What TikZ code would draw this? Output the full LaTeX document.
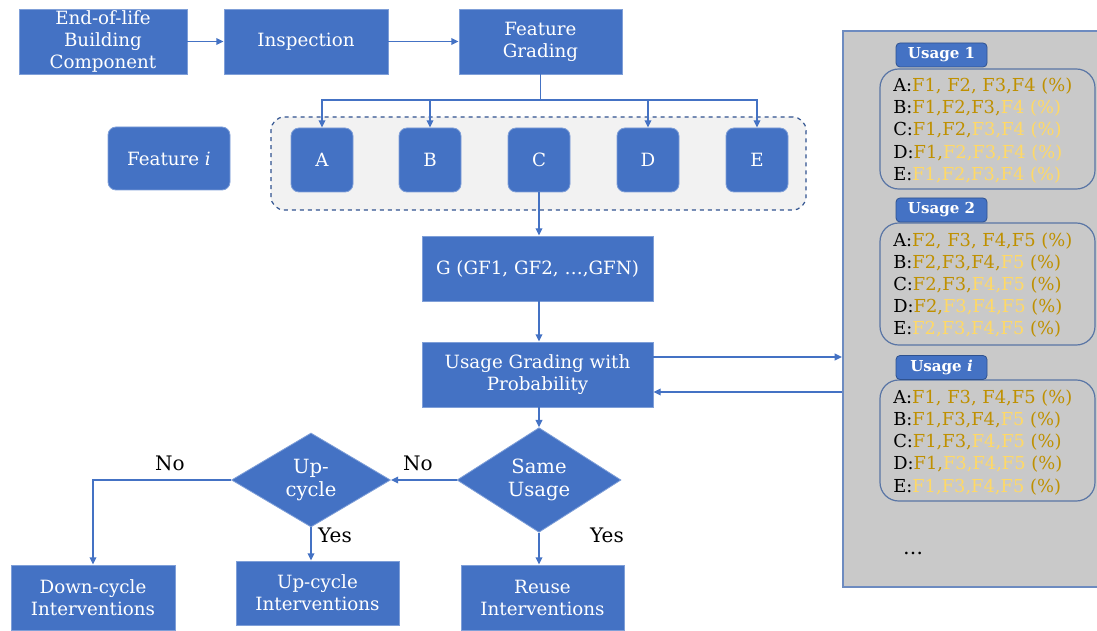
\documentclass[tikz,border=0pt]{standalone}
\usepackage{fontspec}
\setmainfont{DejaVu Serif}
\usetikzlibrary{shapes.geometric,arrows.meta,calc}
\definecolor{mainblue}{HTML}{4472C4}
\definecolor{boxedge}{HTML}{7F9FD8}
\definecolor{darkblue}{HTML}{2F528F}
\definecolor{panelgray}{HTML}{C9C9C9}
\definecolor{paneledge}{HTML}{6D8BC0}
\definecolor{dkgold}{HTML}{BF9000}
\definecolor{ltgold}{HTML}{FFD966}
\definecolor{grpfill}{HTML}{F2F2F2}
\newcommand{\dkg}[1]{\textcolor{dkgold}{#1}}
\newcommand{\ltg}[1]{\textcolor{ltgold}{#1}}
\begin{document}
\begin{tikzpicture}[x=0.75pt,y=-0.75pt,
 box/.style={draw=boxedge, line width=0.6pt, fill=mainblue, text=white, align=center, inner sep=0pt, font=\fontsize{13.7}{16.5}\selectfont},
 rbox/.style={box, rounded corners=6pt},
 dia/.style={box, diamond, font=\fontsize{14.7}{17.5}\selectfont},
 conn/.style={draw=mainblue, line width=1.1pt},
 arr/.style={conn, -{Triangle[length=5.5pt,width=5pt]}},
 lbl/.style={font=\fontsize{15}{17}\selectfont, text=black, inner sep=0pt},
 row/.style={anchor=west, inner sep=0pt, font=\fontsize{13.4}{16}\selectfont},
 tab/.style={draw=darkblue, line width=0.6pt, fill=mainblue, rounded corners=3pt, text=white, font=\fontsize{11.3}{13}\bfseries\selectfont, minimum width=68.25pt, minimum height=18pt, inner sep=0pt},
 innerbox/.style={draw=darkblue!80, line width=0.9pt, rounded corners=14pt, minimum width=161.25pt, inner sep=0pt}
]
\useasboundingbox (0,0) rectangle (1097,631);

% top row
\node[box, minimum width=126pt, minimum height=48.75pt] (eol) at (103,41.5) {End-of-life\\Building\\Component};
\node[box, minimum width=123pt, minimum height=48.75pt] (insp) at (306,41.5) {Inspection};
\node[box, minimum width=122.25pt, minimum height=48.75pt] (fg) at (540.5,41.5) {Feature\\Grading};
\draw[arr] (eol.east) -- (insp.west);
\draw[arr] (insp.east) -- (fg.west);

% features
\node[draw=darkblue, dashed, line width=0.9pt, fill=grpfill, rounded corners=10pt, minimum width=401.25pt, minimum height=69.75pt, inner sep=0pt] (grp) at (538.5,163.5) {};
\node[rbox, minimum width=91.5pt, minimum height=47.25pt] (feat) at (169,158.5) {Feature \textit{i}};
\node[rbox, minimum width=46.5pt, minimum height=48pt] (A) at (322,160) {A};
\node[rbox, minimum width=46.5pt, minimum height=48pt] (B) at (430,160) {B};
\node[rbox, minimum width=46.5pt, minimum height=48pt] (C) at (539,160) {C};
\node[rbox, minimum width=46.5pt, minimum height=48pt] (D) at (648,160) {D};
\node[rbox, minimum width=46.5pt, minimum height=48pt] (E) at (757,160) {E};
\coordinate (yh) at (0,100);
\coordinate (hub) at (fg.south |- yh);
\draw[conn] (fg.south) -- (hub);
\draw[arr] (hub) -| (A.north);
\draw[arr] (hub) -| (B.north);
\draw[arr] (hub) -| (D.north);
\draw[arr] (hub) -| (E.north);

% middle
\node[box, minimum width=173.25pt, minimum height=48.75pt] (g) at (537.5,268.5) {G (GF1, GF2, …,GFN)};
\node[box, minimum width=173.25pt, minimum height=48.75pt] (ug) at (537.5,374.5) {Usage Grading with\\Probability};
\draw[arr] (C.south) -- (C.south |- g.north);
\draw[arr] (C.south |- g.south) -- (C.south |- ug.north);

% decisions
\node[dia, minimum width=123pt, minimum height=69pt] (same) at (539,480) {Same\\Usage};
\node[dia, minimum width=119.25pt, minimum height=70.5pt] (upc) at (311,480) {Up-\\cycle};
\node[box, minimum width=123pt, minimum height=48.75pt] (down) at (93,597.5) {Down-cycle\\Interventions};
\node[box, minimum width=122.25pt, minimum height=48pt] (upi) at (317.5,593) {Up-cycle\\Interventions};
\node[box, minimum width=122.25pt, minimum height=48.75pt] (reuse) at (542.5,597.5) {Reuse\\Interventions};
\draw[arr] (same.north |- ug.south) -- (same.north);
\draw[arr] (same.west) -- (upc.east);
\draw[arr] (upc.west) -| (down.north);
\draw[arr] (upc.south) -- (upc.south |- upi.north);
\draw[arr] (same.south) -- (same.south |- reuse.north);
\node[lbl] (no1) at (418,463) {No};
\node[lbl] (no2) at (170,463) {No};
\node[lbl] (yes1) at (335,535) {Yes};
\node[lbl] (yes2) at (607,535) {Yes};

% right panel
\node[draw=paneledge, line width=1.2pt, fill=panelgray, minimum width=195pt, minimum height=417pt, inner sep=0pt, anchor=north west] (panel) at (842,30) {};
\coordinate (ya) at (0,357);
\coordinate (yb) at (0,392);
\draw[arr] (ug.east |- ya) -- (panel.west |- ya);
\draw[arr] (panel.west |- yb) -- (ug.east |- yb);

\node[innerbox, minimum height=90pt] (u1box) at (987.5,129) {};
\node[tab] (u1) at (941.5,55) {Usage 1};
\node[innerbox, minimum height=91.5pt] (u2box) at (987.5,284) {};
\node[tab] (u2) at (941.5,210) {Usage 2};
\node[innerbox, minimum height=90.75pt] (u3box) at (987.5,440.5) {};
\node[tab] (u3) at (941.5,367.5) {Usage \textit{i}};

\node[row] (r1a) at (893,86) {A:\dkg{F1, F2, F3,F4 (\%)}};
\node[row] (r1b) at (893,108) {B:\dkg{F1,F2,F3,}\ltg{F4 (\%)}};
\node[row] (r1c) at (893,130) {C:\dkg{F1,F2,}\ltg{F3,F4 (\%)}};
\node[row] (r1d) at (893,153) {D:\dkg{F1,}\ltg{F2,F3,F4 (\%)}};
\node[row] (r1e) at (893,175) {E:\ltg{F1,F2,F3,F4 (\%)}};

\node[row] (r2a) at (893,241) {A:\dkg{F2, F3, F4,F5 (\%)}};
\node[row] (r2b) at (893,263) {B:\dkg{F2,F3,F4,}\ltg{F5} \dkg{(\%)}};
\node[row] (r2c) at (893,285) {C:\dkg{F2,F3,}\ltg{F4,F5} \dkg{(\%)}};
\node[row] (r2d) at (893,307) {D:\dkg{F2,}\ltg{F3,F4,F5} \dkg{(\%)}};
\node[row] (r2e) at (893,329) {E:\ltg{F2,F3,F4,F5} \dkg{(\%)}};

\node[row] (r3a) at (893,398) {A:\dkg{F1, F3, F4,F5 (\%)}};
\node[row] (r3b) at (893,420) {B:\dkg{F1,F3,F4,}\ltg{F5} \dkg{(\%)}};
\node[row] (r3c) at (893,442) {C:\dkg{F1,F3,}\ltg{F4,F5} \dkg{(\%)}};
\node[row] (r3d) at (893,464) {D:\dkg{F1,}\ltg{F3,F4,F5} \dkg{(\%)}};
\node[row] (r3e) at (893,487) {E:\ltg{F1,F3,F4,F5} \dkg{(\%)}};

\node[lbl] (dots) at (913,553) {…};
\end{tikzpicture}
\end{document}
